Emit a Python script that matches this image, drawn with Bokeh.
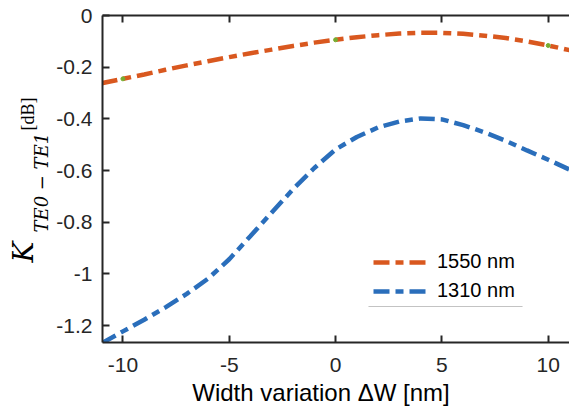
import math
from bokeh.plotting import figure
from bokeh.layouts import row, column
from bokeh.models import (LinearAxis, FixedTicker, Legend, LegendItem,
                          BoxAnnotation, Range1d)
from bokeh.core.properties import value
from bokeh.embed import file_html
from bokeh.resources import INLINE

# ---- data ----
width_variation = [-11, -10, -9, -8, -7, -6, -5, -4, -3, -2, -1, 0,
                   1, 2, 3, 4, 5, 6, 7, 8, 9, 10, 11]
k_1550 = [-0.262, -0.245, -0.228, -0.210, -0.193, -0.177, -0.161, -0.146,
          -0.132, -0.118, -0.105, -0.094, -0.084, -0.076, -0.070, -0.067,
          -0.067, -0.071, -0.078, -0.087, -0.100, -0.116, -0.134]
k_1310 = [-1.268, -1.222, -1.177, -1.129, -1.077, -1.018, -0.943, -0.853,
          -0.762, -0.672, -0.590, -0.518, -0.470, -0.433, -0.410, -0.398,
          -0.402, -0.424, -0.452, -0.485, -0.522, -0.558, -0.596]
marker_x = [-10, 0, 10]
marker_y = [-0.245, -0.094, -0.116]

series_names = ["1550 nm", "1310 nm"]
x_ticks = [-10, -5, 0, 5, 10]
x_tick_labels = ["-10", "-5", "0", "5", "10"]
y_ticks = [0, -0.2, -0.4, -0.6, -0.8, -1.0, -1.2]
y_tick_labels = ["0", "-0.2", "-0.4", "-0.6", "-0.8", "-1", "-1.2"]
x_title = "Width variation \u0394W [nm]"
y_title_main = "K"
y_title_sub = "TE0 \u2212 TE1"
y_title_unit = "[dB]"

ORANGE = "#D9581F"
BLUE = "#2A6EBB"
GREEN = "#77AC30"
AX = "#262626"
FONT = "Liberation Sans"

W, H = 569, 410
LEFT_W = 52
BOTTOM_H = 32


def blank_fig(w, h, xr, yr):
    f = figure(width=w, height=h, output_backend="svg", toolbar_location=None,
               x_range=Range1d(*xr), y_range=Range1d(*yr),
               x_axis_type=None, y_axis_type=None, title=None,
               min_border=0, min_border_left=0, min_border_right=0,
               min_border_top=0, min_border_bottom=0, frame_align=False)
    f.outline_line_color = None
    f.grid.visible = False
    return f


# ---- main plot ----
p = figure(width=W - LEFT_W, height=H - BOTTOM_H, output_backend="svg",
           toolbar_location=None, title=None, frame_align=False,
           x_range=Range1d(-10.96, 11.0), y_range=Range1d(-1.265, 0),
           min_border_left=50, min_border_right=0, min_border_top=15,
           min_border_bottom=36)
p.outline_line_color = None
p.grid.visible = False

r1 = p.line(width_variation, k_1550, line_color=ORANGE, line_width=4.5,
            line_dash="16 6 8 6")
r2 = p.line(width_variation, k_1310, line_color=BLUE, line_width=4.5,
            line_dash="16 6 8 6")
p.scatter(marker_x, marker_y, size=4, color=GREEN)


def style_axis(ax, ticks, labels, standoff, show_labels=True):
    ax.ticker = FixedTicker(ticks=ticks)
    ax.major_label_overrides = {t: l for t, l in zip(ticks, labels)}
    ax.axis_line_color = AX
    ax.axis_line_width = 2
    ax.major_tick_line_color = AX
    ax.major_tick_line_width = 2
    ax.major_tick_in = 7
    ax.major_tick_out = 0
    ax.minor_tick_line_color = None
    ax.major_label_text_font = FONT
    ax.major_label_text_color = AX
    ax.major_label_text_font_size = "21px" if show_labels else "0px"
    ax.major_label_standoff = standoff


style_axis(p.xaxis[0], x_ticks, x_tick_labels, 15)
style_axis(p.yaxis[0], y_ticks, y_tick_labels, 10)

top_axis = LinearAxis()
style_axis(top_axis, x_ticks, ["" for _ in x_ticks], 0, show_labels=False)
p.add_layout(top_axis, "above")

legend = Legend(items=[LegendItem(label=series_names[0], renderers=[r1]),
                       LegendItem(label=series_names[1], renderers=[r2])],
                location=(271, 40))
legend.margin = 0
legend.padding = 0
legend.spacing = 6
legend.glyph_width = 55
legend.glyph_height = 20
legend.label_height = 20
legend.label_standoff = 9
legend.label_text_font = FONT
legend.label_text_font_size = "20px"
legend.label_text_color = "black"
legend.border_line_color = None
legend.background_fill_alpha = 0
p.add_layout(legend)

p.add_layout(BoxAnnotation(left=316, right=470, top=306, bottom=306,
                           left_units="canvas", right_units="canvas",
                           top_units="canvas", bottom_units="canvas",
                           fill_color=None, line_color="#8a8a8a",
                           line_width=1))

# ---- y-axis title panel (pixel coordinates, y measured upward) ----
left = blank_fig(LEFT_W, H, (0, LEFT_W), (0, H))
ang = math.pi / 2
left.text(x=[23.3], y=[H - 262], text=[y_title_main], angle=ang,
          text_font=value("DejaVu Serif"), text_font_style="italic",
          text_font_size="28px", text_color="black",
          text_align="left", text_baseline="middle")
left.text(x=[40.8], y=[H - 232], text=[y_title_sub], angle=ang,
          text_font=value("DejaVu Serif"), text_font_style="italic",
          text_font_size="18px", text_color="black",
          text_align="left", text_baseline="middle")
left.text(x=[27.9], y=[H - 130], text=[y_title_unit], angle=ang,
          text_font=value("Liberation Serif"), text_font_style="normal",
          text_font_size="18px", text_color="black",
          text_align="left", text_baseline="middle")

# ---- x-axis title panel ----
bottom = blank_fig(W - LEFT_W, BOTTOM_H, (LEFT_W, W), (0, BOTTOM_H))
bottom.text(x=[320.5], y=[18.3], text=[x_title],
            text_font=value(FONT), text_font_size="24px", text_color="black",
            text_align="center", text_baseline="middle")

layout = row(left, column(p, bottom, spacing=0), spacing=0)
open("out.html", "w").write(file_html(layout, INLINE))
